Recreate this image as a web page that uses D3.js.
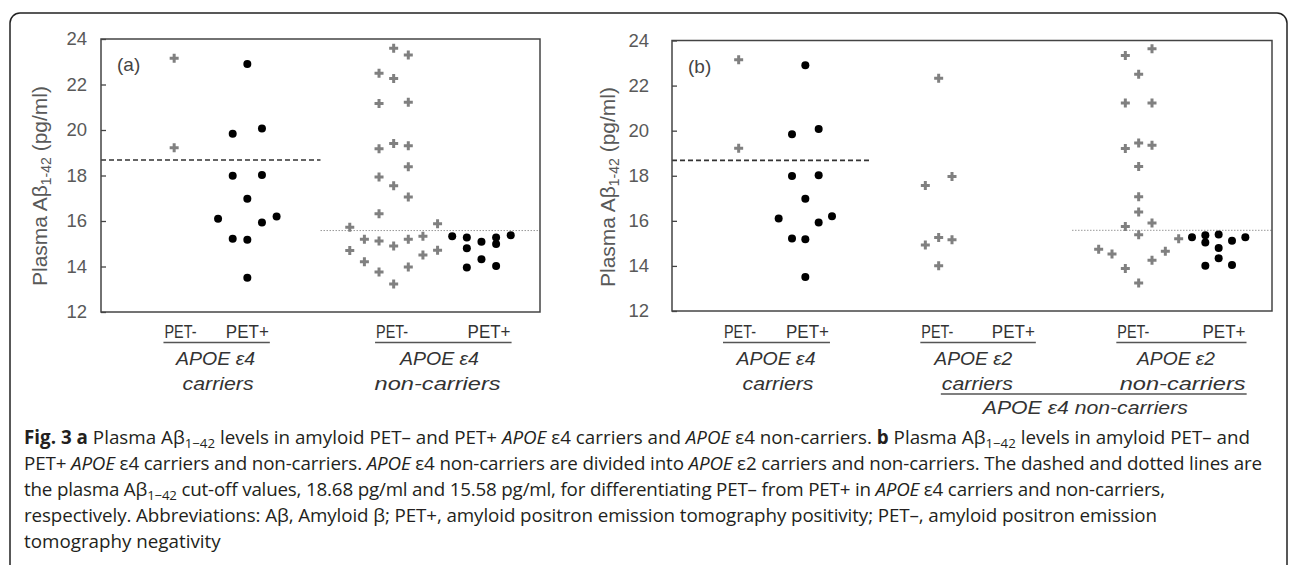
<!DOCTYPE html>
<html>
<head>
<meta charset="utf-8">
<script src="https://cdn.jsdelivr.net/npm/d3@7"></script>
<style>
  body { margin: 0; background: #fff; }
  svg { display: block; }
</style>
</head>
<body>
<svg id="chart" width="1290" height="565"></svg>
<script>
// y axis
var yTicks = [12, 14, 16, 18, 20, 22, 24];

// cut-off values (pg/ml)
var cutCarrier = 18.68;
var cutNonCarrier = 15.58;

// APOE e4 carriers (same in both panels); x = category position incl. jitter
var carrNegY = [23.15, 19.22];
var carrNegX = [0.5, 0.5];
var carrPosY = [22.9, 20.07, 19.84, 18.02, 17.99, 16.98, 16.2, 16.1, 15.93, 15.22, 15.18, 13.51];
var carrPosX = [1.0, 1.1, 0.9, 1.1, 0.9, 1.0, 1.2, 0.8, 1.1, 0.9, 1.0, 1.0];

// panel (a): APOE e4 non-carriers
var aNonNegY = [23.59, 23.30, 22.49, 22.26, 21.17, 21.22, 19.18, 19.41, 19.31, 18.39, 17.93, 17.55, 17.05, 16.32,
                15.72, 15.88, 15.20, 15.12, 14.90, 15.20, 15.33, 14.70, 14.71, 14.21, 14.51, 13.76, 13.98, 13.23];
var aNonNegX = [2.0, 2.1, 1.9, 2.0, 1.9, 2.1, 1.9, 2.0, 2.1, 2.1, 1.9, 2.0, 2.1, 1.9,
                1.7, 2.3, 1.8, 1.9, 2.0, 2.1, 2.2, 1.7, 2.3, 1.8, 2.2, 1.9, 2.1, 2.0];
var aNonPosY = [15.33, 15.28, 14.80, 13.96, 15.09, 14.32, 15.28, 14.99, 14.02, 15.37];
var aNonPosX = [2.4, 2.5, 2.5, 2.5, 2.6, 2.6, 2.7, 2.7, 2.7, 2.8];

// panel (b): e4 non-carriers split into e2 carriers / e2 non-carriers
var bE2NegY = [22.32, 17.97, 17.57, 15.26, 15.16, 14.93, 14.01];
var bE2NegX = [2.0, 2.1, 1.9, 2.0, 2.1, 1.9, 2.0];
var bNonNegY = [23.33, 23.63, 22.50, 21.23, 21.23, 19.21, 19.45, 19.35, 18.41, 17.07, 16.39,
                15.75, 15.90, 15.38, 14.74, 14.53, 14.65, 15.21, 14.25, 13.88, 13.24];
var bNonNegX = [3.4, 3.6, 3.5, 3.4, 3.6, 3.4, 3.5, 3.6, 3.5, 3.5, 3.5,
                3.4, 3.6, 3.5, 3.2, 3.3, 3.7, 3.8, 3.6, 3.4, 3.5];
var bNonPosY = [15.27, 15.36, 15.04, 14.01, 15.39, 14.79, 14.34, 15.12, 14.04, 15.27];
var bNonPosX = [3.9, 4.0, 4.0, 4.0, 4.1, 4.1, 4.1, 4.2, 4.2, 4.3];

var svg = d3.select('#chart');
var labelFont = '"Liberation Sans", Arial, sans-serif';
var rowY = [338, 365, 389.5, 414];
// printed widths of the category labels (geometric font in the original)
var labelWidth = {
  'PET-': 32, 'PET+': 43, 'APOE ε4': 79, 'APOE ε2': 78,
  'carriers': 71, 'non-carriers': 126, 'APOE ε4 non-carriers': 205
};

// outer figure box
svg.append('rect')
  .attr('x', 10).attr('y', 13)
  .attr('width', 1277).attr('height', 620)
  .attr('rx', 10)
  .attr('fill', 'none').attr('stroke', '#222').attr('stroke-width', 1.5);

var panels = [
  {
    name: '(a)', left: 101, right: 540, top: 39, bottom: 312, xDomain: [0, 3], pad: 14,
    titleX: 40, titleY: 186,
    series: [
      { ys: carrNegY, xs: carrNegX, type: 'neg' },
      { ys: carrPosY, xs: carrPosX, type: 'pos' },
      { ys: aNonNegY, xs: aNonNegX, type: 'neg' },
      { ys: aNonPosY, xs: aNonPosX, type: 'pos' }
    ],
    cuts: [
      { v: cutCarrier, x0: 0, x1: 1.5, dash: '5,3', color: '#333', w: 1.6 },
      { v: cutNonCarrier, x0: 1.5, x1: 3, dash: '1.5,1.5', color: '#999', w: 1 }
    ],
    labels: [
      { t: 'PET-', x: 0.543, row: 0 }, { t: 'PET+', x: 1.0, row: 0 },
      { t: 'APOE ε4', x: 0.783, row: 1, it: true }, { t: 'carriers', x: 0.8, row: 2, it: true },
      { t: 'PET-', x: 1.989, row: 0 }, { t: 'PET+', x: 2.652, row: 0 },
      { t: 'APOE ε4', x: 2.313, row: 1, it: true }, { t: 'non-carriers', x: 2.3, row: 2, it: true }
    ],
    rules: [ { a: 0, b: 1, y: 342.5 }, { a: 4, b: 5, y: 342.5 } ]
  },
  {
    name: '(b)', left: 672, right: 1272, top: 40.5, bottom: 311, xDomain: [0, 4.5], pad: 23,
    titleX: 608, titleY: 187,
    series: [
      { ys: carrNegY, xs: carrNegX, type: 'neg' },
      { ys: carrPosY, xs: carrPosX, type: 'pos' },
      { ys: bE2NegY, xs: bE2NegX, type: 'neg' },
      { ys: bNonNegY, xs: bNonNegX, type: 'neg' },
      { ys: bNonPosY, xs: bNonPosX, type: 'pos' }
    ],
    cuts: [
      { v: cutCarrier, x0: 0, x1: 1.5, dash: '5,3', color: '#333', w: 1.6 },
      { v: cutNonCarrier, x0: 3.0, x1: 4.5, dash: '1.5,1.5', color: '#999', w: 1 }
    ],
    labels: [
      { t: 'PET-', x: 0.51, row: 0 }, { t: 'PET+', x: 1.016, row: 0 },
      { t: 'APOE ε4', x: 0.78, row: 1, it: true }, { t: 'carriers', x: 0.795, row: 2, it: true },
      { t: 'PET-', x: 1.99, row: 0 }, { t: 'PET+', x: 2.56, row: 0 },
      { t: 'APOE ε2', x: 2.26, row: 1, it: true }, { t: 'carriers', x: 2.29, row: 2, it: true },
      { t: 'PET-', x: 3.46, row: 0 }, { t: 'PET+', x: 4.14, row: 0 },
      { t: 'APOE ε2', x: 3.78, row: 1, it: true }, { t: 'non-carriers', x: 3.83, row: 2, it: true },
      { t: 'APOE ε4 non-carriers', x: 3.10, row: 3, it: true }
    ],
    rules: [ { a: 0, b: 1, y: 342.5 }, { a: 4, b: 5, y: 342.5 }, { a: 8, b: 9, y: 342.5 }, { a: 7, b: 11, y: 394 } ]
  }
];

panels.forEach(drawPanel);

function drawPanel(p) {
  var g = svg.append('g');
  var x = d3.scaleLinear().domain(p.xDomain).range([p.left, p.right]);
  var y = d3.scaleLinear().domain([12, 24]).range([p.bottom, p.top]);

  // cut-off lines
  p.cuts.forEach(function(c) {
    g.append('line')
      .attr('x1', x(c.x0)).attr('x2', x(c.x1))
      .attr('y1', y(c.v)).attr('y2', y(c.v))
      .attr('stroke', c.color).attr('stroke-width', c.w)
      .attr('stroke-dasharray', c.dash);
  });

  // frame
  g.append('rect')
    .attr('x', p.left).attr('y', p.top)
    .attr('width', p.right - p.left).attr('height', p.bottom - p.top)
    .attr('fill', 'none').attr('stroke', '#444').attr('stroke-width', 1.5);

  var ax = g.append('g')
    .attr('transform', 'translate(' + p.left + ',0)')
    .call(d3.axisLeft(y).tickValues(yTicks).tickSizeInner(-5).tickSizeOuter(0).tickPadding(p.pad));
  ax.select('.domain').remove();
  ax.selectAll('line').attr('stroke', '#444').attr('stroke-width', 1.3);
  ax.selectAll('text')
    .attr('fill', '#595959')
    .style('font-family', labelFont).style('font-size', '18.5px');

  // y title
  var t = g.append('text')
    .attr('transform', 'translate(' + p.titleX + ',' + p.titleY + ') rotate(-90)')
    .attr('text-anchor', 'middle').attr('dy', '0.35em')
    .attr('fill', '#595959')
    .style('font-family', labelFont).style('font-size', '21px');
  t.append('tspan').text('Plasma Aβ');
  t.append('tspan').attr('dy', 4).style('font-size', '14px').text('1-42');
  t.append('tspan').attr('dy', -4).text(' (pg/ml)');

  // panel tag
  g.append('text')
    .attr('x', p.left + 16).attr('y', p.top + 32)
    .attr('fill', '#444')
    .style('font-family', labelFont).style('font-size', '19px')
    .text(p.name);

  // points
  var cross = d3.symbol().type(d3.symbolCross).size(45);
  p.series.forEach(function(s) {
    var pts = d3.zip(s.xs, s.ys);
    if (s.type === 'neg') {
      g.selectAll(null).data(pts).enter().append('path')
        .attr('d', cross)
        .attr('transform', function(d) { return 'translate(' + x(d[0]) + ',' + y(d[1]) + ')'; })
        .attr('fill', '#808080');
    } else {
      g.selectAll(null).data(pts).enter().append('circle')
        .attr('cx', function(d) { return x(d[0]); })
        .attr('cy', function(d) { return y(d[1]); })
        .attr('r', 4)
        .attr('fill', '#000');
    }
  });

  // category labels
  var nodes = p.labels.map(function(l) {
    return g.append('text')
      .attr('x', x(l.x)).attr('y', rowY[l.row])
      .attr('text-anchor', 'middle')
      .attr('fill', '#333')
      .attr('textLength', labelWidth[l.t])
      .attr('lengthAdjust', 'spacingAndGlyphs')
      .style('font-family', labelFont).style('font-size', '18.5px')
      .style('font-style', l.it ? 'italic' : 'normal')
      .text(l.t).node();
  });
  p.rules.forEach(function(r) {
    var ba = nodes[r.a].getBBox(), bb = nodes[r.b].getBBox();
    g.append('line')
      .attr('x1', ba.x - 1).attr('x2', bb.x + bb.width + 1)
      .attr('y1', r.y).attr('y2', r.y)
      .attr('stroke', '#555').attr('stroke-width', 1.5);
  });
}

// caption
var captionLines = [
  [['Fig. 3 a', 'b'], [' Plasma Aβ', ''], ['1−42', 'sub'], [' levels in amyloid PET– and PET+ ', ''], ['APOE', 'i'],
   [' ε4 carriers and ', ''], ['APOE', 'i'], [' ε4 non-carriers. ', ''], ['b', 'b'], [' Plasma Aβ', ''], ['1−42', 'sub'],
   [' levels in amyloid PET– and', '']],
  [['PET+ ', ''], ['APOE', 'i'], [' ε4 carriers and non-carriers. ', ''], ['APOE', 'i'],
   [' ε4 non-carriers are divided into ', ''], ['APOE', 'i'], [' ε2 carriers and non-carriers. The dashed and dotted lines are', '']],
  [['the plasma Aβ', ''], ['1−42', 'sub'], [' cut-off values, 18.68 pg/ml and 15.58 pg/ml, for differentiating PET– from PET+ in ', ''],
   ['APOE', 'i'], [' ε4 carriers and non-carriers,', '']],
  [['respectively. Abbreviations: Aβ, Amyloid β; PET+, amyloid positron emission tomography positivity; PET–, amyloid positron emission', '']],
  [['tomography negativity', '']]
];
var capBase = [444, 470, 496, 522, 548];
var capRight = [1250, 1262, 1165, 1157, null];
var capLeft = 24;
var capFont = 17;

var capTexts = captionLines.map(function(line, i) {
  var t = svg.append('text')
    .attr('x', capLeft).attr('y', capBase[i])
    .attr('fill', '#231f20')
    .style('font-family', '"Open Sans", "Noto Sans", sans-serif')
    .style('font-size', capFont + 'px');
  var shifted = false;
  line.forEach(function(seg) {
    var ts = t.append('tspan').text(seg[0]);
    if (seg[1] === 'b') ts.style('font-weight', 'bold');
    if (seg[1] === 'i') ts.style('font-style', 'italic');
    if (seg[1] === 'sub') { ts.attr('dy', 4).attr('class', 'sub').style('font-size', '12px'); shifted = true; }
    else if (shifted) { ts.attr('dy', -4); shifted = false; }
  });
  return t;
});

// scale the caption to the first line's printed width, then fit the full lines
var w0 = capTexts[0].node().getComputedTextLength();
var k = (capRight[0] - capLeft) / w0;
capTexts.forEach(function(t, i) {
  t.style('font-size', (capFont * k) + 'px');
  t.selectAll('tspan.sub').style('font-size', (12 * k) + 'px');
  if (capRight[i]) t.attr('textLength', capRight[i] - capLeft).attr('lengthAdjust', 'spacing');
});
</script>
</body>
</html>
